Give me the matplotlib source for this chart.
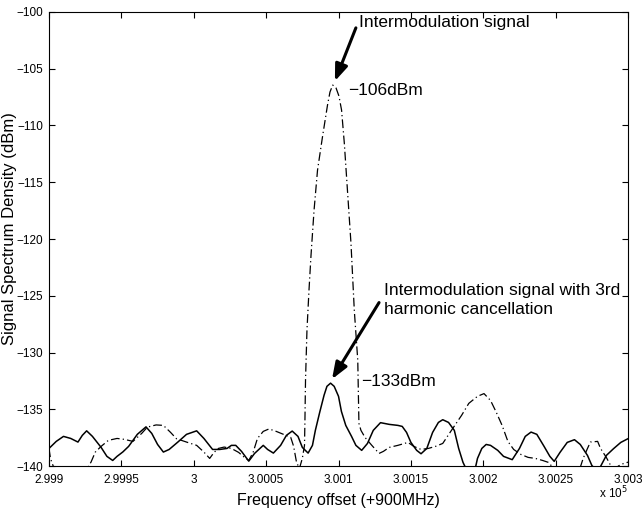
import matplotlib
matplotlib.use("Agg")
import matplotlib.pyplot as plt
from matplotlib.ticker import MultipleLocator, FuncFormatter
import numpy as np

plt.rcParams['font.family'] = ['Liberation Sans', 'DejaVu Sans']

# Frequency offset (raw units, axis shown as x 10^5) and spectrum density (dBm)
freq_cancel = [299900, 299905, 299910, 299915, 299920, 299923, 299926, 299930, 299936, 299940,
               299944, 299947, 299951, 299955, 299961, 299967, 299971, 299975, 299979, 299983,
               299989, 299995, 300002, 300007, 300013, 300018, 300023, 300026, 300029, 300033,
               300038, 300042, 300048, 300051, 300055, 300060, 300064, 300068, 300072, 300075,
               300079, 300082, 300084, 300087, 300090, 300092, 300094.5, 300097, 300100, 300102,
               300105, 300109, 300112, 300116, 300120, 300124, 300129, 300135, 300141, 300144,
               300147, 300150, 300154, 300157, 300161, 300165, 300169, 300172, 300176, 300180,
               300183, 300186, 300189, 300192, 300194, 300196, 300199, 300202, 300205, 300210,
               300214, 300220, 300225, 300229, 300233, 300237, 300242, 300246, 300249, 300253,
               300258, 300263, 300267, 300272, 300275, 300278, 300281, 300285, 300290, 300295,
               300300]
psd_cancel = [-138.45, -137.83, -137.39, -137.57, -137.89, -137.30, -136.90, -137.39, -138.36, -139.15,
              -139.51, -139.15, -138.76, -138.27, -137.21, -136.55, -137.13, -138.10, -138.77, -138.54,
              -137.89, -137.21, -136.90, -137.57, -138.54, -138.54, -138.45, -138.18, -138.18, -138.71,
              -139.57, -138.89, -138.18, -138.54, -138.86, -138.18, -137.30, -136.92, -137.39, -138.36,
              -138.86, -138.18, -136.86, -135.27, -133.77, -132.98, -132.70, -132.98, -133.86, -135.19,
              -136.42, -137.39, -138.18, -138.62, -138.01, -136.86, -136.18, -136.33, -136.42, -136.51,
              -137.04, -137.92, -138.62, -138.92, -138.45, -137.04, -136.16, -135.92, -136.16, -136.86,
              -138.45, -139.68, -140.48, -140.74, -140.48, -139.33, -138.45, -138.10, -138.18, -138.62,
              -139.15, -139.44, -138.45, -137.39, -137.01, -137.21, -138.27, -139.15, -139.59, -138.80,
              -137.92, -137.68, -138.10, -139.07, -139.95, -140.34, -140.04, -139.07, -138.47, -137.92,
              -137.59]

freq_plain = [299900, 299901, 299903, 299908, 299919, 299926, 299929, 299932, 299936, 299941,
              299947, 299952, 299958, 299964, 299968, 299974, 299979, 299984, 299988, 299995,
              300002, 300007, 300011, 300014, 300017, 300021, 300026, 300031, 300035, 300038,
              300041, 300044, 300048, 300052, 300057, 300062, 300067, 300069, 300071, 300073,
              300075, 300076.5, 300076.8, 300077.2, 300078.2, 300079.6, 300081, 300083.1, 300085.5, 300088.9,
              300092.4, 300094.1, 300096, 300098.3, 300100.3, 300102.1, 300104, 300106.3, 300108.6, 300110.9,
              300113.3, 300113.8, 300114.1, 300115.5, 300118.3, 300123, 300128, 300131, 300135, 300141,
              300148, 300152, 300157, 300162, 300167, 300172, 300178, 300185, 300190, 300196,
              300200.5, 300205, 300209, 300213, 300217, 300221, 300226, 300231, 300236, 300241,
              300245, 300247.5, 300251, 300257, 300263, 300267, 300269, 300272, 300274, 300279,
              300281, 300285, 300288, 300291, 300295, 300300]
psd_plain = [-138.45, -139.33, -140.04, -140.74, -140.92, -140.30, -139.66, -138.77, -138.27, -137.74,
             -137.57, -137.65, -137.83, -137.13, -136.57, -136.38, -136.42, -137.04, -137.59, -137.89,
             -138.18, -138.77, -139.33, -138.80, -138.45, -138.33, -138.45, -138.80, -139.24, -139.51,
             -138.80, -137.57, -136.95, -136.73, -136.95, -137.21, -137.48, -138.27, -139.68, -140.21,
             -139.33, -138.18, -135.98, -132.45, -128.04, -124.51, -121.43, -117.46, -113.93, -111.02,
             -108.20, -107.05, -106.44, -106.70, -107.41, -108.64, -111.55, -115.96, -120.37, -126.28,
             -130.69, -134.22, -136.24, -136.86, -137.48, -138.18, -138.89, -138.71, -138.36, -138.18,
             -137.92, -138.27, -138.54, -138.45, -138.27, -138.01, -136.86, -135.54, -134.48, -133.86,
             -133.62, -134.22, -135.27, -136.42, -137.83, -138.54, -138.98, -139.24, -139.33, -139.51,
             -139.68, -140.04, -140.56, -140.92, -140.74, -140.12, -139.33, -138.45, -137.89, -137.83,
             -138.45, -139.24, -139.95, -140.21, -139.86, -139.66]

fig = plt.figure(figsize=(6.44, 5.12), dpi=100)
ax = fig.add_axes([0.0761, 0.0898, 0.8991, 0.8868])

ax.plot(freq_plain, psd_plain, color='black', lw=0.9,
        linestyle=(0, (7, 2.5, 1, 2.5)))
ax.plot(freq_cancel, psd_cancel, color='black', lw=1.1, linestyle='-')

ax.set_xlim(299900, 300300)
ax.set_ylim(-140, -100)
ax.xaxis.set_major_locator(MultipleLocator(50))
ax.yaxis.set_major_locator(MultipleLocator(5))
ax.xaxis.set_major_formatter(FuncFormatter(lambda v, _: f"{v / 1e5:g}"))
ax.tick_params(direction='in', top=True, right=True, length=4, width=0.8,
               labelsize=8.5)
ax.tick_params(axis='x', pad=6)
ax.tick_params(axis='y', pad=4)
for s in ax.spines.values():
    s.set_linewidth(0.8)

ax.set_xlabel('Frequency offset (+900MHz)', fontsize=11.5, labelpad=5)
ax.set_ylabel('Signal Spectrum Density (dBm)', fontsize=12)
ax.yaxis.set_label_coords(-0.055, 0.522)
ax.text(1.0, -0.060, r'x 10$^{5}$', transform=ax.transAxes, ha='right', va='center',
        fontsize=8.5)

# Peak markers and annotations
i1 = int(np.argmax(psd_plain))
p1x, p1y = freq_plain[i1], psd_plain[i1]
i2 = int(np.argmax(psd_cancel[30:70])) + 30
p2x, p2y = freq_cancel[i2], psd_cancel[i2]

arrow = dict(arrowstyle='-|>,head_length=1.0,head_width=0.38', lw=2.2,
             color='black', shrinkA=0, shrinkB=0)
ax.annotate('', xy=(p1x + 1.5, p1y + 0.35), xytext=(300112, -101.4),
            arrowprops=arrow)
ax.text(300114, -100.9, 'Intermodulation signal', fontsize=12.5, ha='left', va='center')
ax.text(300106.5, -106.9, f'\u2212{abs(p1y):.0f}dBm', fontsize=12.5, ha='left', va='center')

ax.annotate('', xy=(p2x + 1.0, p2y + 0.35), xytext=(300128, -125.6),
            arrowprops=arrow)
ax.text(300131.4, -125.35, 'Intermodulation signal with 3rd\nharmonic cancellation',
        fontsize=12.5, ha='left', va='center', linespacing=1.35)
ax.text(300115.5, -132.55, f'\u2212{abs(p2y):.0f}dBm', fontsize=12.5, ha='left', va='center')

fig.savefig('out.png', dpi=100)
